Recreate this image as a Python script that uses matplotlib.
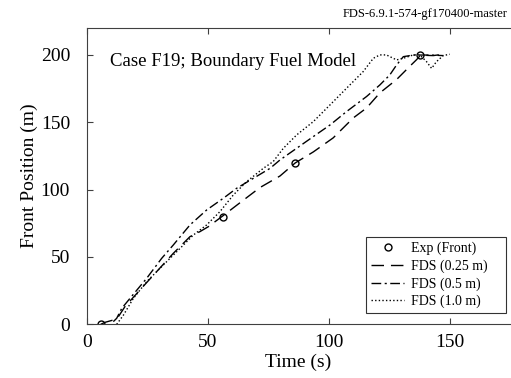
import matplotlib
matplotlib.use("Agg")
import matplotlib.pyplot as plt

plt.rcParams['font.family'] = ['Liberation Serif', 'DejaVu Serif']
plt.rcParams['mathtext.fontset'] = 'stix'

# Experimental front positions
exp_t = [5.8, 56.2, 86.2, 138.0]
exp_y = [0.0, 80.0, 120.0, 200.0]

# FDS, 0.25 m grid
fds025_t = [5.8, 7.6, 11.0, 13.1, 15.8, 22.0, 28.9, 35.8, 42.7, 46.8, 50.3, 56.2,
            63.4, 71.6, 79.9, 86.2, 93.7, 101.9, 110.2, 115.7, 121.2, 128.1,
            133.6, 136.4, 138.0, 143.3, 147.4]
fds025_y = [0.0, 1.5, 3.2, 5.7, 13.1, 25.5, 39.1, 52.7, 65.1, 68.8, 72.5, 80.4,
            90.3, 101.5, 110.1, 119.8, 128.0, 138.4, 153.2, 160.6, 171.8, 181.7,
            191.6, 196.5, 199.8, 199.5, 200.5]

# FDS, 0.5 m grid
fds05_t = [11.0, 12.4, 14.5, 17.9, 24.8, 31.0, 35.8, 42.7, 49.6, 56.5, 62.0, 68.9,
           75.8, 79.9, 86.8, 93.7, 100.6, 107.4, 115.7, 121.2, 125.3, 128.1,
           130.9, 135.0, 141.9, 147.4]
fds05_y = [2.0, 4.5, 11.9, 19.3, 34.2, 49.0, 58.9, 73.8, 84.9, 93.6, 101.0, 108.4,
           115.8, 122.0, 130.7, 139.4, 148.0, 157.9, 169.1, 177.7, 185.1, 192.5,
           198.7, 199.9, 199.9, 199.5]

# FDS, 1.0 m grid
fds10_t = [12.4, 15.2, 19.3, 24.8, 31.7, 38.6, 44.1, 49.6, 55.1, 60.6, 66.1, 73.0,
           77.1, 81.3, 86.8, 93.7, 100.6, 107.4, 114.3, 118.5, 121.2, 123.9,
           128.1, 130.9, 135.0, 137.7, 140.5, 142.6, 144.6, 147.4, 150.1]
fds10_y = [0.0, 6.9, 19.3, 31.7, 44.1, 56.4, 66.3, 73.8, 83.7, 96.0, 105.9, 115.8,
           120.8, 130.7, 140.6, 150.5, 162.9, 175.2, 187.6, 197.5, 200.0, 200.0,
           196.3, 197.5, 200.0, 200.0, 195.0, 190.0, 195.0, 199.5, 200.5]

x_ticks = [0, 50, 100, 150]
y_ticks = [0, 50, 100, 150, 200]

fig = plt.figure(figsize=(5.11, 3.78), dpi=100)
ax = fig.add_axes([0.1697, 0.142, 0.8283, 0.784])

ax.plot(exp_t, exp_y, 'o', color='black', mfc='none', ms=5, mew=1.0,
        label='Exp (Front)')
ax.plot(fds025_t, fds025_y, color='black', lw=1.0, dashes=(9, 5),
        label='FDS (0.25 m)')
ax.plot(fds05_t, fds05_y, color='black', lw=1.0, dashes=(7, 2.5, 1.5, 2.5),
        label='FDS (0.5 m)')
ax.plot(fds10_t, fds10_y, color='black', lw=1.0, dashes=(1, 1.6),
        label='FDS (1.0 m)')

ax.set_xlim(0, 175)
ax.set_ylim(0, 220)
ax.set_xticks(x_ticks)
ax.set_yticks(y_ticks)
ax.tick_params(direction='in', length=4, labelsize=14, top=True, right=False,
               colors='#404040', labelcolor='black')
ax.tick_params(axis='y', pad=12)
ax.tick_params(axis='x', pad=7)
for s in ax.spines.values():
    s.set_color('#404040')
ax.spines['right'].set_visible(False)

ax.set_xlabel('Time (s)', fontsize=14, labelpad=2)
ax.set_ylabel('Front Position (m)', fontsize=14, labelpad=2)

ax.text(0.055, 0.915, 'Case F19; Boundary Fuel Model', transform=ax.transAxes,
        fontsize=13.5, va='top', ha='left')

fig.text(0.993, 0.962, 'FDS-6.9.1-574-gf170400-master', fontsize=9,
         ha='right', va='center')

leg = ax.legend(loc='lower left', bbox_to_anchor=(0.660, 0.038, 0.331, 0.25),
                mode='expand', fontsize=10, frameon=True, fancybox=False,
                edgecolor='black', borderpad=0.35, labelspacing=0.3,
                handlelength=2.4, handletextpad=0.5, borderaxespad=0)
leg.get_frame().set_linewidth(0.8)

fig.savefig('out.png', dpi=100)
